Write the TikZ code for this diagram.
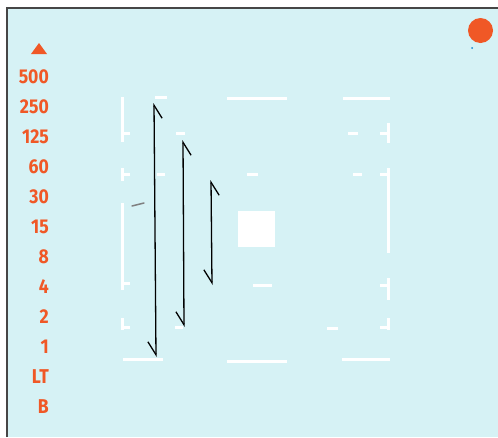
\documentclass[tikz,border=0pt]{standalone}
\usepackage{fontspec}
\setmainfont{Fira Sans}[FakeStretch=0.88]
\usetikzlibrary{arrows.meta,positioning}

\definecolor{screen}{RGB}{214,242,245}
\definecolor{dialred}{RGB}{240,88,38}
\definecolor{framegray}{RGB}{70,70,70}

\tikzset{
  speed/.style={anchor=east, text=dialred, inner sep=0pt, font=\fontsize{20}{20}\selectfont\bfseries},
  viewline/.style={white, line width=3pt},
  zig/.style={line width=1.3pt,
    {Straight Barb[right,length=13pt,width=16pt]}-{Straight Barb[right,length=13pt,width=16pt]}}
}

\begin{document}
\begin{tikzpicture}[x=1pt,y=-1pt]
  \useasboundingbox (0,0) rectangle (498,437);

  % Screen and frame
  \fill[screen] (7,8) rectangle (498,437);
  \draw[framegray, line width=1.5pt] (7,437) -- (7,8) -- (498,8);

  % Shutter speed scale
  \fill[dialred] (31,54) -- (39,43) -- (47,54) -- cycle;
  \foreach \lab [count=\i from 0] in {500,250,125,60,30,15,8,4,2,1,LT,B}
    \node[speed] (s\i) at (49,77+30*\i) {\lab};

  % Indicator lamp
  \fill[dialred] (480.5,30.5) circle (12.5);
  \fill[cyan!70!blue] (472,48) circle (1);

  % Viewfinder frame marks, left side
  \foreach \a/\b in {97/142,168/181,203/290,318/330}
    \draw[viewline] (122,\a) -- (122,\b);
  \foreach \y in {133,174,283,327}
    \draw[viewline] (122,\y) -- (130,\y);

  % Viewfinder frame marks, right side
  \foreach \a/\b in {123/143,168/253,278/300,318/330}
    \draw[viewline] (388,\a) -- (388,\b);
  \foreach \y in {133,174,285,327}
    \draw[viewline] (388,\y) -- (380,\y);

  % Top and bottom bars
  \foreach \a/\b/\y in {155/167/97,227/287/98,343/390/98,123/163/359,227/287/361,342/390/359}
    \draw[viewline] (\a,\y) -- (\b,\y);

  % Inner dashes
  \foreach \a/\b/\y in {176/185/133,157/165/174,247/258/174,353/362/174,348/358/133,253/272/285,175/183/327,327/338/328}
    \draw[viewline] (\a,\y) -- (\b,\y);

  % Centre spot
  \fill[white] (238,211) rectangle (275,247);

  % small grey mark
  \draw[gray, line width=1.5pt, line cap=round] (132,206) -- (144,203);

  % Range arrows
  \coordinate (a1t) at (154,103);
  \coordinate (a1b) at (156,357);
  \coordinate (a2t) at (183,140);
  \coordinate (a2b) at (184,327);
  \coordinate (a3t) at (211,180);
  \coordinate (a3b) at (212,285);
  \draw[zig] (a1b) -- (a1t);
  \draw[zig] (a2b) -- (a2t);
  \draw[zig] (a3b) -- (a3t);
\end{tikzpicture}
\end{document}
